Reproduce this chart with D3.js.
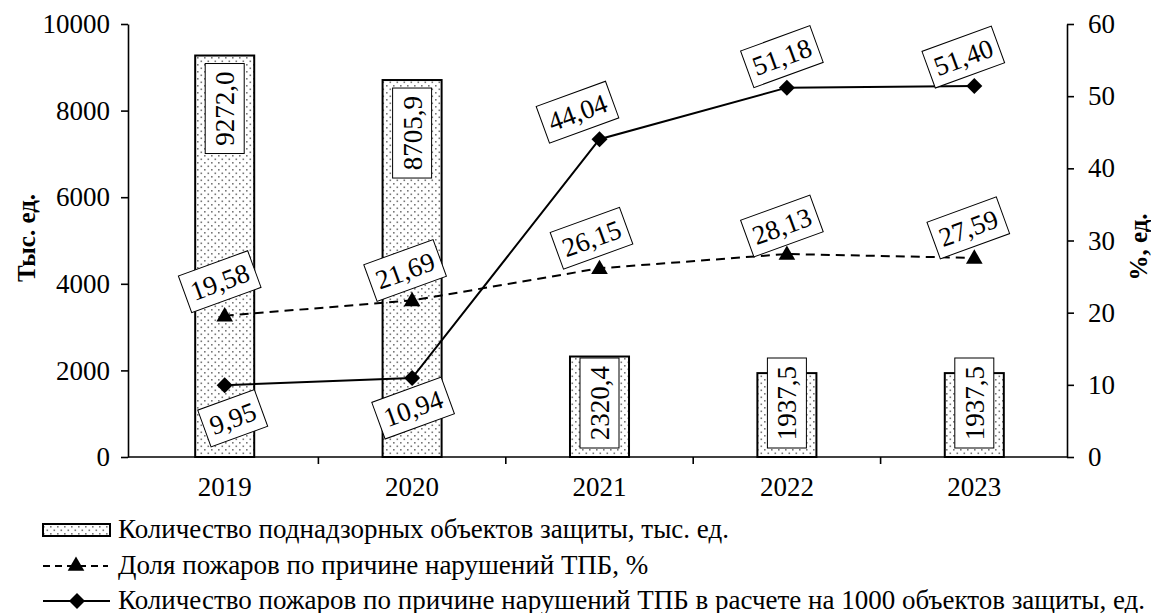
<!DOCTYPE html>
<html>
<head>
<meta charset="utf-8">
<script src="https://cdn.jsdelivr.net/npm/d3@7"></script>
</head>
<body style="margin:0;background:#fff">
<svg id="chart" width="1151" height="613" style="font-family:'Liberation Serif'"></svg>
<script>
// Fire safety supervision, 2019–2023
const years = ["2019", "2020", "2021", "2022", "2023"];
const objectsThousands = [9272.0, 8705.9, 2320.4, 1937.5, 1937.5];   // supervised objects, thousand units
const fireSharePct = [19.58, 21.69, 26.15, 28.13, 27.59];            // share of fires caused by violations, %
const firesPer1000 = [9.95, 10.94, 44.04, 51.18, 51.40];             // fires per 1000 objects
const leftTicks = [0, 2000, 4000, 6000, 8000, 10000];
const rightTicks = [0, 10, 20, 30, 40, 50, 60];
const legendLabels = [
  "Количество поднадзорных объектов защиты, тыс. ед.",
  "Доля пожаров по причине нарушений ТПБ, %",
  "Количество пожаров по причине нарушений ТПБ в расчете на 1000 объектов защиты, ед."
];

// label placement relative to each point (dx, dy)
const shareLabelShift = [[-5, -34], [-7, -30], [-8, -30], [-5, -28], [-6, -30]];
const rateLabelShift = [[8, 33], [1, 30], [-22, -27], [-5, -31], [-11, -29]];

const fmt = v => v.toFixed(v >= 1000 ? 1 : 2).replace(".", ",");
const FONT = 27;
const SERIF = "Liberation Serif";

const svg = d3.select("#chart");
const defs = svg.append("defs");
const pat = defs.append("pattern")
  .attr("id", "dots").attr("patternUnits", "userSpaceOnUse")
  .attr("width", 7).attr("height", 7);
pat.append("rect").attr("width", 7).attr("height", 7).attr("fill", "#fff");
pat.append("rect").attr("x", 1).attr("y", 1).attr("width", 1.6).attr("height", 1.6).attr("fill", "#777");
pat.append("rect").attr("x", 4.5).attr("y", 4.5).attr("width", 1.6).attr("height", 1.6).attr("fill", "#777");

const plotLeft = 128, plotRight = 1067, plotTop = 24, plotBottom = 457;

const x = d3.scaleBand().domain(years).range([131, 1068]).paddingInner(0).paddingOuter(0);
const yL = d3.scaleLinear().domain([0, 10000]).range([plotBottom, plotTop]);
const yR = d3.scaleLinear().domain([0, 60]).range([plotBottom, plotTop]);
const cx = d => x(d) + x.bandwidth() / 2;

// bars
const barW = x.bandwidth() * 0.315;
svg.append("g").selectAll("rect")
  .data(years.map((y, i) => ({ y, v: objectsThousands[i] })))
  .join("rect")
  .attr("x", d => cx(d.y) - barW / 2)
  .attr("y", d => yL(d.v))
  .attr("width", barW)
  .attr("height", d => yL(0) - yL(d.v))
  .attr("fill", "url(#dots)")
  .attr("stroke", "#000")
  .attr("stroke-width", 2);

// axes
function styleAxis(g) {
  g.attr("font-family", null);
  g.selectAll("text").attr("font-size", FONT).attr("fill", "#000");
  g.selectAll("line, path").attr("stroke", "#000").attr("stroke-width", 1.6);
}
svg.append("g").attr("transform", `translate(${plotLeft},0)`)
  .call(d3.axisLeft(yL).tickValues(leftTicks).tickFormat(d3.format("d")).tickSize(7).tickSizeOuter(0).tickPadding(11))
  .call(styleAxis);
svg.append("g").attr("transform", `translate(${plotRight},0)`)
  .call(d3.axisRight(yR).tickValues(rightTicks).tickFormat(d3.format("d")).tickSize(7).tickSizeOuter(0).tickPadding(14))
  .call(styleAxis);

// category axis: ticks at band boundaries
const xg = svg.append("g");
xg.append("line").attr("x1", plotLeft).attr("x2", plotRight)
  .attr("y1", plotBottom).attr("y2", plotBottom).attr("stroke", "#000").attr("stroke-width", 1.6);
xg.selectAll("line.tk").data(years.slice(1)).join("line").attr("class", "tk")
  .attr("x1", d => x(d)).attr("x2", d => x(d))
  .attr("y1", plotBottom).attr("y2", plotBottom + 7)
  .attr("stroke", "#000").attr("stroke-width", 1.6);
xg.selectAll("text").data(years).join("text")
  .attr("x", d => cx(d)).attr("y", plotBottom + 39)
  .attr("text-anchor", "middle").attr("font-size", FONT).text(d => d);

// axis titles
svg.append("text").attr("transform", "translate(35,238) rotate(-90)")
  .attr("text-anchor", "middle").attr("font-size", 25).attr("font-weight", "bold").text("Тыс. ед.");
svg.append("text").attr("transform", "translate(1147,247) rotate(-90)")
  .attr("text-anchor", "middle").attr("font-size", 25).attr("font-weight", "bold").text("%, ед.");

// bar value labels (vertical, boxed)
const boxW = 39, boxH = 90;
const barLabels = svg.append("g");
objectsThousands.forEach((v, i) => {
  const top = Math.min(yL(v) + 8, plotBottom - 9 - boxH);
  const g = barLabels.append("g").attr("transform", `translate(${cx(years[i])},${top + boxH / 2})`);
  g.append("rect").attr("x", -boxW / 2).attr("y", -boxH / 2).attr("width", boxW).attr("height", boxH)
    .attr("fill", "#fff").attr("stroke", "#000").attr("stroke-width", 1);
  g.append("text").attr("transform", "rotate(-90)").attr("text-anchor", "middle")
    .attr("dy", "0.35em").attr("font-size", FONT).text(fmt(v));
});

// lines
const seriesLine = d3.line().x((d, i) => cx(years[i])).y(d => yR(d));
svg.append("path").datum(fireSharePct).attr("d", seriesLine)
  .attr("fill", "none").attr("stroke", "#000").attr("stroke-width", 2).attr("stroke-dasharray", "9,6");
svg.append("path").datum(firesPer1000).attr("d", seriesLine)
  .attr("fill", "none").attr("stroke", "#000").attr("stroke-width", 2);

const tri = d3.symbol().type(d3.symbolTriangle).size(120);
const dia = "M0,-8L8,0L0,8L-8,0Z";
svg.append("g").selectAll("path").data(fireSharePct).join("path")
  .attr("transform", (d, i) => `translate(${cx(years[i])},${yR(d) + 1})`)
  .attr("d", tri()).attr("fill", "#000");
svg.append("g").selectAll("path").data(firesPer1000).join("path")
  .attr("transform", (d, i) => `translate(${cx(years[i])},${yR(d)})`)
  .attr("d", dia).attr("fill", "#000");

// tilted boxed labels for the line series; box width from the glyph count (digits 0.5em, comma 0.25em)
function pointLabels(values, shifts) {
  const g = svg.append("g");
  values.forEach((v, i) => {
    const [dx, dy] = shifts[i];
    const s = fmt(v);
    const w = (s.replace(",", "").length * 0.5 + 0.25) * FONT + 13;
    const h = 39;
    const lg = g.append("g").attr("transform",
      `translate(${cx(years[i]) + dx},${yR(v) + dy}) rotate(-20)`);
    lg.append("rect").attr("x", -w / 2).attr("y", -h / 2).attr("width", w).attr("height", h)
      .attr("fill", "#fff").attr("stroke", "#000").attr("stroke-width", 1);
    lg.append("text").attr("text-anchor", "middle").attr("dy", "0.35em")
      .attr("font-size", FONT).text(s);
  });
}
pointLabels(fireSharePct, shareLabelShift);
pointLabels(firesPer1000, rateLabelShift);

// legend
const lgY = [530, 566, 601];
const leg = svg.append("g");
leg.append("rect").attr("x", 43).attr("y", lgY[0] - 6).attr("width", 67).attr("height", 12)
  .attr("fill", "url(#dots)").attr("stroke", "#000").attr("stroke-width", 2);
leg.append("line").attr("x1", 43).attr("x2", 108).attr("y1", lgY[1]).attr("y2", lgY[1])
  .attr("stroke", "#000").attr("stroke-width", 2).attr("stroke-dasharray", "7,5");
leg.append("path").attr("transform", `translate(76,${lgY[1]})`).attr("d", tri()).attr("fill", "#000");
leg.append("line").attr("x1", 43).attr("x2", 110).attr("y1", lgY[2]).attr("y2", lgY[2])
  .attr("stroke", "#000").attr("stroke-width", 2);
leg.append("path").attr("transform", `translate(77,${lgY[2]})`).attr("d", dia).attr("fill", "#000");
leg.selectAll("text").data(legendLabels).join("text")
  .attr("x", 118).attr("y", (d, i) => lgY[i] + 8)
  .attr("font-size", FONT).text(d => d);

// every text in the chart is set in a Times-like serif
svg.selectAll("text").style("font-family", SERIF);
</script>
</body>
</html>
